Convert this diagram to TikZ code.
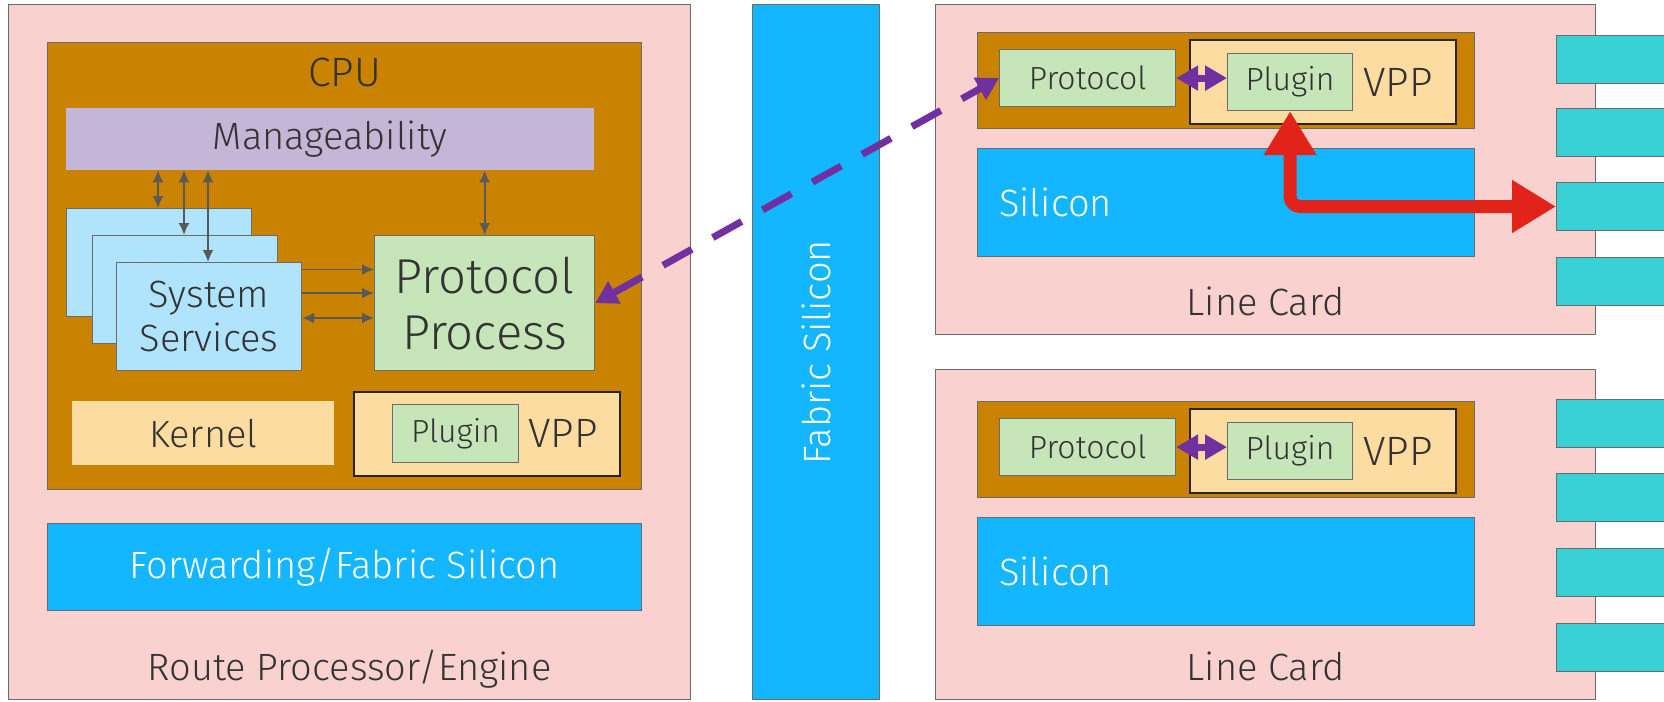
\documentclass[tikz,border=0pt]{standalone}
\usepackage{fontspec}
\setmainfont{Fira Sans}[UprightFont={* Light}]
\usetikzlibrary{arrows.meta,positioning}

\definecolor{rppink}{HTML}{F9D2D0}
\definecolor{cpuorange}{HTML}{C98300}
\definecolor{mgmtlilac}{HTML}{C5B5D6}
\definecolor{svcblue}{HTML}{B0E4FC}
\definecolor{ghostblue}{HTML}{A2ECFF}
\definecolor{procgreen}{HTML}{C6E5B8}
\definecolor{vppbeige}{HTML}{FDDCA2}
\definecolor{siliconblue}{HTML}{14B7FF}
\definecolor{portteal}{HTML}{38D2D6}
\definecolor{flowred}{HTML}{E2231A}
\definecolor{ipcpurple}{HTML}{7030A0}
\definecolor{linkgray}{HTML}{595959}
\definecolor{edgegray}{HTML}{6B6B6B}
\definecolor{inkgray}{HTML}{333333}

\begin{document}
\begin{tikzpicture}[x=1pt, y=-1pt,
  every node/.style={align=center, inner sep=0pt, text=inkgray},
  wh/.style 2 args={minimum width=#1pt, minimum height=#2pt},
  panel/.style={draw=edgegray, line width=1.2pt, anchor=north west},
  flat/.style={anchor=north west},
  procbox/.style={panel, fill=procgreen},
  vppbox/.style={draw=black!85, line width=2pt, fill=vppbeige, anchor=north west},
  svcbox/.style={panel, fill=svcblue, wh={185}{108}},
  chip/.style={panel, fill=siliconblue, text=white},
  port/.style={panel, fill=portteal, line width=1pt, wh={130}{48}},
  link/.style={draw=linkgray, line width=1.8pt, >={Latex[length=12pt,width=11pt]}},
  ipc/.style={draw=ipcpurple, line width=7pt, >={Triangle[length=22pt,width=24pt]}},
  flow/.style={draw=flowred, line width=13pt, rounded corners=10pt, >={Triangle[length=44pt,width=50pt]}},
  txt/.style={font=\fontsize{38}{44}\selectfont},
  smalltxt/.style={font=\fontsize{32}{38}\selectfont},
  vpptxt/.style={font=\fontsize{41}{48}\selectfont},
  bigtxt/.style={font=\fontsize{49}{56}\selectfont}
]
\clip (0,0) rectangle (1664,701);

% Route processor
\node[panel, fill=rppink, wh={682}{695}] (rp) at (8,4) {};
\node[txt] at ([yshift=31pt]rp.south) {Route Processor/Engine};
\node[panel, fill=cpuorange, wh={594}{447}] (cpu) at (47,42) {};
\node[txt, font=\fontsize{41}{48}\selectfont] at ([yshift=-30pt]cpu.north) {CPU};
\node[flat, fill=mgmtlilac, wh={528}{62}, txt] (mgmt) at (66,108) {Manageability};

% stacked system services
\node[svcbox, txt, text=ghostblue] (svcA) at (66,208) {System\\Services};
\node[svcbox, txt, text=ghostblue] (svcB) at (92,235) {System\\Services};
\node[svcbox, txt] (svcC) at (116,262) {System\\Services};
\node[procbox, wh={220}{135}, bigtxt] (pp) at (374,235) {Protocol\\Process};

\node[flat, fill=vppbeige, wh={262}{64}, txt] (kernel) at (72,401) {Kernel};
\node[vppbox, wh={266}{84}] (vpp0) at (353,391) {};
\node[procbox, wh={126}{58}, smalltxt] (plug0) at (392,404) {Plugin};
\node[vpptxt, right=9pt of plug0] {VPP};

\node[chip, wh={594}{87}, txt] (fwd) at (47,523) {Forwarding/Fabric Silicon};

% links inside the CPU
\foreach \s in {svcA,svcB,svcC}
  \draw[link, <->] ([xshift=92pt]\s.north west) coordinate (tip) -- (tip |- mgmt.south);
\draw[link, <->] (pp.north) -- (pp.north |- mgmt.south);
\foreach \dy/\tips in {7.5/->, 31/->, 56/<->}
  \draw[link, \tips] ([yshift=-\dy pt]svcC.north east) coordinate (tail) -- (tail -| pp.west);

% fabric
\node[chip, wh={127}{695}] (fabric) at (752,4) {};
\node[txt, text=white, rotate=90] at (fabric.center) {Fabric Silicon};

% line cards
\foreach \c/\top/\dy in {1/4/0, 2/369/369} {
  \node[panel, fill=rppink, wh={660}{330}] (lc\c) at (935,\top) {};
  \node[txt] at ([yshift=34pt]lc\c.south) {Line Card};
  \node[panel, fill=cpuorange, wh={497}{96}] (lcpu\c) at (977,32+\dy) {};
  \node[procbox, wh={176}{57}, smalltxt] (prot\c) at (999,49+\dy) {Protocol};
  \node[vppbox, wh={266}{84}] (vpp\c) at (1189,39+\dy) {};
  \node[procbox, wh={125}{57}, smalltxt] (plug\c) at (1227,53+\dy) {Plugin};
  \node[vpptxt, right=10pt of plug\c] {VPP};
  \node[chip, wh={497}{108}] (sil\c) at (977,148+\dy) {};
  \node[txt, text=white, anchor=west] at ([xshift=22pt]sil\c.west) {Silicon};
  \draw[ipc, <->] (prot\c.east) -- (prot\c.east -| plug\c.west);
}

% front panel ports
\foreach \i/\py in {1/35, 2/108, 3/182, 4/257, 5/399, 6/473, 7/548, 8/623}
  \node[port] (port\i) at (1556,\py) {};

% punt path and forwarding path
\draw[ipc, <->, dash pattern=on 33pt off 24pt] (pp.east) -- (prot1.west);
\draw[flow, <->] (plug1.south) |- (port3.west);
\end{tikzpicture}
\end{document}
